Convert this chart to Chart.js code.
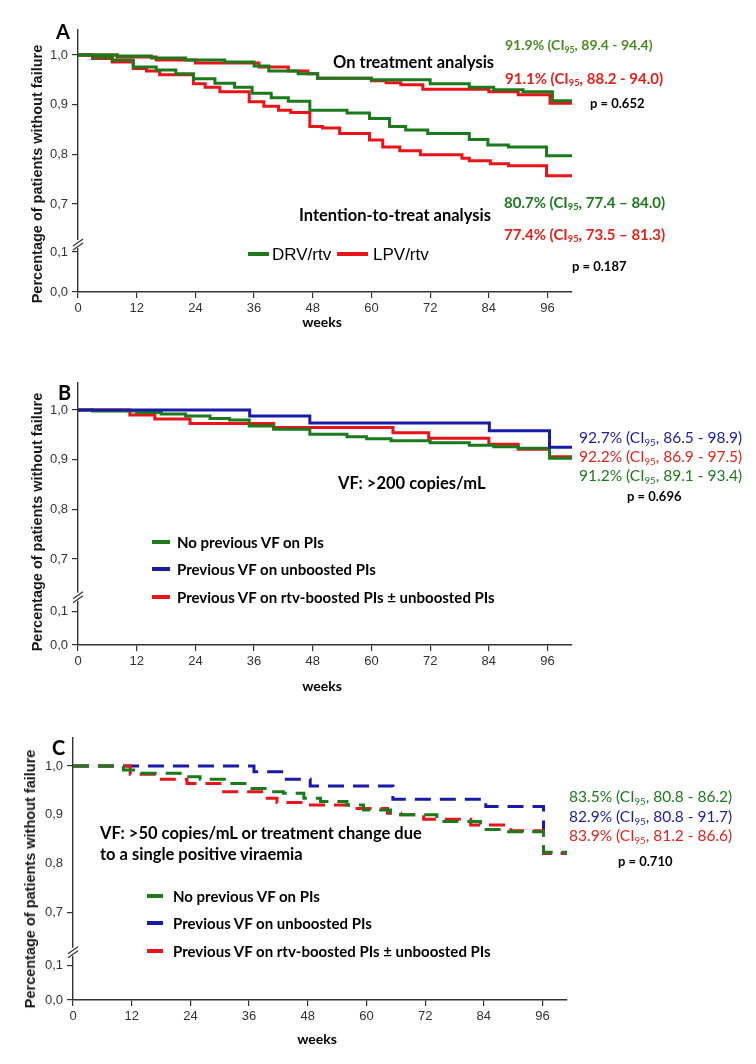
<!DOCTYPE html>
<html>
<head>
<meta charset="utf-8">
<script src="https://cdn.jsdelivr.net/npm/chart.js@4.4.0/dist/chart.umd.min.js"></script>
<style>
  body { margin: 0; background: #fff; }
  #page { position: relative; width: 756px; height: 1064px; overflow: hidden; background: #fff; font-family: Lato, 'Open Sans', sans-serif; }
  canvas { position: absolute; left: 0; }
  .t { position: absolute; white-space: nowrap; line-height: 1; transform: translateY(-50%); }
  .b { font-weight: bold; }
  .ci sub { font-size: 0.62em; vertical-align: -0.3em; line-height: 0; }
  .ytitle { position: absolute; white-space: nowrap; font-family: 'Liberation Sans', Arial, sans-serif; font-weight: bold; font-size: 14.5px; color: #1a1a1a; transform: translate(-50%, -50%) rotate(-90deg); }
  .mark { position: absolute; height: 4px; transform: translateY(-50%); }
  .grn { color: #1f7a1f; } .red { color: #e2231c; } .blu { color: #1e1e9c; } .olv { color: #4a8b22; }
</style>
</head>
<body>
<div id="page">
  <canvas id="chartA" width="756" height="340" style="top:0"></canvas>
  <canvas id="chartB" width="756" height="350" style="top:340px"></canvas>
  <canvas id="chartC" width="756" height="374" style="top:690px"></canvas>

  <!-- panel A text -->
  <div class="t b" style="left:56px;top:31px;font-size:20px">A</div>
  <div class="ytitle" style="left:37px;top:174px">Percentage of patients without failure</div>
  <div class="t b" style="left:333px;top:62px;font-size:16.5px">On treatment analysis</div>
  <div class="t b" style="left:299px;top:215px;font-size:16.5px">Intention-to-treat analysis</div>
  <div class="t b ci olv" style="left:505px;top:45px;font-size:14px">91.9% (CI<sub>95</sub>, 89.4 - 94.4)</div>
  <div class="t b ci red" style="left:505px;top:78px;font-size:15px">91.1% (CI<sub>95</sub>, 88.2 - 94.0)</div>
  <div class="t b" style="left:590px;top:103px;font-size:13px">p = 0.652</div>
  <div class="t b ci grn" style="left:504px;top:202px;font-size:15px">80.7% (CI<sub>95</sub>, 77.4 – 84.0)</div>
  <div class="t b ci red" style="left:504px;top:234px;font-size:15px">77.4% (CI<sub>95</sub>, 73.5 – 81.3)</div>
  <div class="t b" style="left:572px;top:266px;font-size:13px">p = 0.187</div>
  <div class="mark" style="left:248px;top:254px;width:21px;background:#1f7a1f"></div>
  <div class="t" style="left:272px;top:254px;font-size:17px;font-family:'Liberation Sans',Arial,sans-serif">DRV/rtv</div>
  <div class="mark" style="left:337px;top:254px;width:31px;background:#e8141a"></div>
  <div class="t" style="left:373px;top:254px;font-size:17px;font-family:'Liberation Sans',Arial,sans-serif">LPV/rtv</div>
  <div class="t b" style="left:322px;top:322px;font-size:14px;transform:translate(-50%,-50%)">weeks</div>

  <!-- panel B text -->
  <div class="t b" style="left:58px;top:392px;font-size:20px">B</div>
  <div class="ytitle" style="left:37px;top:522px">Percentage of patients without failure</div>
  <div class="t b" style="left:338px;top:483px;font-size:16.5px">VF: &gt;200 copies/mL</div>
  <div class="t ci blu" style="left:579px;top:438px;font-size:15.5px">92.7% (CI<sub>95</sub>, 86.5 - 98.9)</div>
  <div class="t ci red" style="left:579px;top:457px;font-size:15.5px">92.2% (CI<sub>95</sub>, 86.9 - 97.5)</div>
  <div class="t ci grn" style="left:579px;top:476px;font-size:15.5px">91.2% (CI<sub>95</sub>, 89.1 - 93.4)</div>
  <div class="t b" style="left:627px;top:496px;font-size:13px">p = 0.696</div>
  <div class="mark" style="left:152px;top:542px;width:18px;background:#1f7a1f"></div>
  <div class="t b" style="left:177px;top:542px;font-size:15px">No previous VF on PIs</div>
  <div class="mark" style="left:152px;top:569px;width:18px;background:#1a1aa8"></div>
  <div class="t b" style="left:177px;top:569px;font-size:15px">Previous VF on unboosted PIs</div>
  <div class="mark" style="left:152px;top:597px;width:18px;background:#e8141a"></div>
  <div class="t b" style="left:177px;top:597px;font-size:15px">Previous VF on rtv-boosted PIs ± unboosted PIs</div>
  <div class="t b" style="left:322px;top:686px;font-size:14px;transform:translate(-50%,-50%)">weeks</div>

  <!-- panel C text -->
  <div class="t b" style="left:52px;top:747px;font-size:20px">C</div>
  <div class="ytitle" style="left:30px;top:879px">Percentage of patients without failure</div>
  <div class="t b" style="left:100px;top:833px;font-size:16.5px">VF: &gt;50 copies/mL or treatment change due</div>
  <div class="t b" style="left:100px;top:854px;font-size:16.5px">to a single positive viraemia</div>
  <div class="t ci grn" style="left:569px;top:797px;font-size:15.5px">83.5% (CI<sub>95</sub>, 80.8 - 86.2)</div>
  <div class="t ci blu" style="left:569px;top:817px;font-size:15.5px">82.9% (CI<sub>95</sub>, 80.8 - 91.7)</div>
  <div class="t ci red" style="left:569px;top:836px;font-size:15.5px">83.9% (CI<sub>95</sub>, 81.2 - 86.6)</div>
  <div class="t b" style="left:618px;top:861px;font-size:13px">p = 0.710</div>
  <div class="mark" style="left:147px;top:896px;width:16px;background:#1f7a1f"></div>
  <div class="t b" style="left:173px;top:896px;font-size:15px">No previous VF on PIs</div>
  <div class="mark" style="left:147px;top:923px;width:16px;background:#1a1aa8"></div>
  <div class="t b" style="left:173px;top:923px;font-size:15px">Previous VF on unboosted PIs</div>
  <div class="mark" style="left:147px;top:951px;width:16px;background:#e8141a"></div>
  <div class="t b" style="left:173px;top:951px;font-size:15px">Previous VF on rtv-boosted PIs ± unboosted PIs</div>
  <div class="t b" style="left:317px;top:1039px;font-size:14px;transform:translate(-50%,-50%)">weeks</div>
</div>

<script>
// x axis ticks (weeks) and y tick labels (broken axis)
const weekTicks = [0, 12, 24, 36, 48, 60, 72, 84, 96];
const yTickLabels = ['0,0', '0,1', '0,7', '0,8', '0,9', '1,0'];

// A - on treatment
const weeksA_otDRV = [0, 8, 15, 22, 30, 36, 39, 45, 49, 60, 72, 80, 85, 91, 97, 101];
const survA_otDRV  = [1, 0.998, 0.994, 0.99, 0.986, 0.978, 0.968, 0.962, 0.953, 0.95, 0.942, 0.935, 0.93, 0.926, 0.908, 0.908];
const weeksA_otLPV = [0, 8, 16, 24, 37, 43, 47, 49, 60, 63, 66, 70.5, 84, 90, 96.5, 101];
const survA_otLPV  = [1, 0.996, 0.99, 0.984, 0.976, 0.968, 0.962, 0.953, 0.948, 0.944, 0.94, 0.931, 0.926, 0.92, 0.903, 0.903];
// A - intention to treat
const weeksA_ittDRV = [0, 3, 7, 11.3, 16, 20, 23.6, 28, 32, 35.6, 39.5, 43, 47.4, 55, 59.6, 63.7, 67, 71.5, 80, 83.8, 88, 95.8, 101];
const survA_ittDRV  = [1, 0.995, 0.99, 0.976, 0.97, 0.962, 0.952, 0.943, 0.935, 0.923, 0.914, 0.907, 0.889, 0.883, 0.872, 0.856, 0.849, 0.842, 0.83, 0.819, 0.815, 0.797, 0.797];
const weeksA_ittLPV = [0, 3, 7, 11.3, 14, 16.7, 23.6, 26, 29, 35, 38, 41, 43.5, 47.4, 50, 53.5, 59.6, 62.3, 65.8, 70, 78.5, 80, 84.3, 88, 95.8, 101];
const survA_ittLPV  = [1, 0.993, 0.986, 0.973, 0.968, 0.96, 0.942, 0.935, 0.926, 0.906, 0.897, 0.889, 0.884, 0.856, 0.853, 0.842, 0.829, 0.815, 0.807, 0.799, 0.792, 0.787, 0.781, 0.777, 0.757, 0.757];

// B - VF >200 copies/mL
const weeksB_none = [0, 3, 12, 17, 22, 27, 31, 35, 40, 47.4, 55, 59, 64, 72, 80, 85, 90, 96.4, 101];
const survB_none  = [1, 0.998, 0.995, 0.992, 0.988, 0.983, 0.98, 0.968, 0.961, 0.951, 0.946, 0.942, 0.938, 0.934, 0.929, 0.926, 0.923, 0.903, 0.903];
const weeksB_unb  = [0, 35.1, 47.4, 84.1, 96.4, 101];
const survB_unb   = [1, 0.988, 0.974, 0.958, 0.925, 0.925];
const weeksB_rtv  = [0, 10.6, 15.7, 22.9, 40, 64.4, 71.7, 84, 90, 96.4, 101];
const survB_rtv   = [1, 0.99, 0.982, 0.973, 0.965, 0.954, 0.943, 0.931, 0.921, 0.906, 0.906];

// C - VF >50 copies/mL
const weeksC_none = [0, 10.3, 13, 21.9, 26, 31.5, 35.6, 39.6, 43, 47.2, 50.6, 56, 59.4, 64.9, 74.4, 83.3, 88, 96.2, 101];
const survC_none  = [1, 0.992, 0.985, 0.978, 0.973, 0.964, 0.954, 0.947, 0.944, 0.934, 0.927, 0.92, 0.91, 0.9, 0.886, 0.87, 0.865, 0.823, 0.823];
const weeksC_unb  = [0, 37, 43, 48.5, 65.4, 84.4, 96.2, 101];
const survC_unb   = [1, 0.988, 0.973, 0.959, 0.932, 0.917, 0.821, 0.821];
const weeksC_rtv  = [0, 11.7, 17.1, 23.3, 30.8, 39, 41.7, 47.2, 57, 64.3, 67, 71.7, 81.3, 89.5, 96.2, 101];
const survC_rtv   = [1, 0.983, 0.973, 0.964, 0.947, 0.934, 0.925, 0.92, 0.913, 0.903, 0.9, 0.891, 0.879, 0.867, 0.821, 0.821];

const GREEN = '#1b7a1b', RED = '#e8141a', BLUE = '#1a1aa8', AXIS = '#333';

function pts(w, s) { return w.map((x, i) => ({ x: x, y: s[i] })); }
function km(w, s, color, dashed) {
  return { data: pts(w, s), borderColor: color, borderWidth: 3, borderDash: dashed ? [16, 9] : [],
           stepped: true, pointRadius: 0, fill: false, borderCapStyle: 'butt' };
}

// axis break "//" drawn on the y axis
const breakPlugin = {
  id: 'axisBreak',
  afterDraw(chart, args, opts) {
    const ctx = chart.ctx, x = chart.chartArea.left, y = opts.y;
    ctx.save();
    ctx.fillStyle = '#fff';
    ctx.fillRect(x - 2, y - 5, 4, 8);
    ctx.strokeStyle = AXIS;
    ctx.lineWidth = 1.2;
    ctx.beginPath();
    ctx.moveTo(x - 5, y + 1); ctx.lineTo(x + 5, y - 6);
    ctx.moveTo(x - 5, y + 5); ctx.lineTo(x + 5, y - 2);
    ctx.stroke();
    ctx.restore();
  }
};

function panel(id, geo, datasets) {
  const cv = document.getElementById(id);
  const per = (geo.y07 - geo.y10) / 0.3;
  const yMax = 1 + (geo.y10 - geo.top) / per;
  const yMin = yMax - (geo.bottom - geo.top) / per;
  const y01 = yMax - (geo.y01 - geo.top) / per;
  const tickFont = { family: "'Liberation Sans', Arial, sans-serif", size: 13 };
  const hidden = geo.noTicks || [];
  return new Chart(cv, {
    type: 'line',
    data: { datasets: datasets },
    plugins: [breakPlugin],
    options: {
      responsive: false,
      animation: false,
      layout: { padding: { left: 0, top: geo.top, right: cv.width - geo.right, bottom: cv.height - geo.bottom - 40 } },
      plugins: { legend: { display: false }, tooltip: { enabled: false }, axisBreak: { y: geo.y01 - geo.brk } },
      scales: {
        x: {
          type: 'linear', min: 0, max: 101,
          afterFit: s => { s.height = 40; },
          afterBuildTicks: s => { s.ticks = weekTicks.map(v => ({ value: v })); },
          ticks: { color: '#333', font: tickFont, padding: 3, maxRotation: 0 },
          grid: { drawOnChartArea: false, drawTicks: true, tickLength: 6, color: AXIS, lineWidth: 1.2 },
          border: { display: true, color: AXIS, width: 1.4 }
        },
        y: {
          type: 'linear', min: yMin, max: yMax,
          afterFit: s => { s.width = geo.left; },
          afterBuildTicks: s => { s.ticks = [yMin, y01, 0.7, 0.8, 0.9, 1.0].map(v => ({ value: v })); },
          ticks: { color: '#333', font: tickFont, padding: 4, callback: (v, i) => yTickLabels[i] },
          grid: { drawOnChartArea: false, drawTicks: true, tickLength: 6, lineWidth: 1.2,
                  color: c => hidden.includes(c.index) ? 'rgba(0,0,0,0)' : AXIS },
          border: { display: true, color: AXIS, width: 1.4 }
        }
      }
    }
  });
}

panel('chartA', { left: 78, right: 572, top: 30, y10: 55, y07: 204, y01: 252, bottom: 292, brk: 7 }, [
  km(weeksA_otDRV, survA_otDRV, GREEN),
  km(weeksA_otLPV, survA_otLPV, RED),
  km(weeksA_ittDRV, survA_ittDRV, GREEN),
  km(weeksA_ittLPV, survA_ittLPV, RED)
]);

panel('chartB', { left: 78, right: 572, top: 43, y10: 70, y07: 219, y01: 271.7, bottom: 305, brk: 14 }, [
  km(weeksB_unb, survB_unb, BLUE),
  km(weeksB_none, survB_none, GREEN),
  km(weeksB_rtv, survB_rtv, RED)
]);

panel('chartC', { left: 73, right: 567, top: 48, y10: 76, y07: 222.3, y01: 275.7, bottom: 310, brk: 13, noTicks: [3, 4] }, [
  km(weeksC_none, survC_none, GREEN, true),
  km(weeksC_rtv, survC_rtv, RED, true),
  km(weeksC_unb, survC_unb, BLUE, true)
]);
</script>
</body>
</html>
